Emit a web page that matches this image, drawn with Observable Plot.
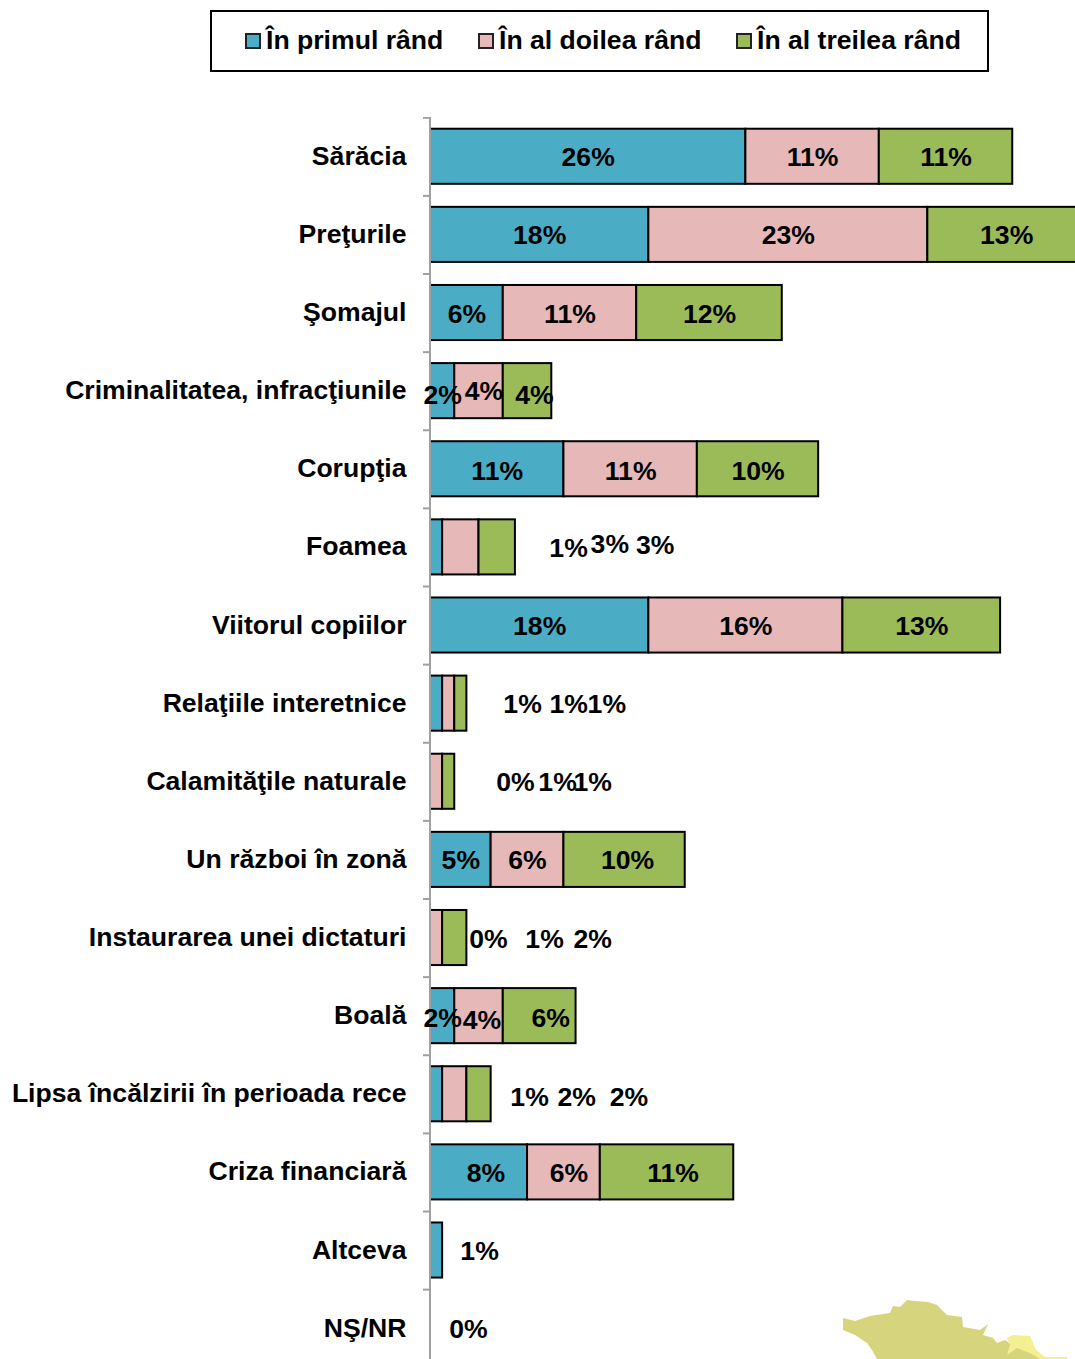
<!DOCTYPE html>
<html lang="ro">
<head>
<meta charset="utf-8">
<script src="https://cdn.jsdelivr.net/npm/d3@7"></script>
<script src="https://cdn.jsdelivr.net/npm/@observablehq/plot@0.6"></script>
<style>
html,body{margin:0;padding:0;background:#fff;overflow:hidden;width:1075px;height:1359px}
body{position:relative;font-family:"Liberation Sans",Arial,sans-serif;font-weight:700;color:#000}
#legend{position:absolute;left:210px;top:10px;width:775px;height:58px;border:2px solid #000;background:#fff}
.item{position:absolute;top:0;height:58px;line-height:56px;font-size:26.6px;white-space:nowrap}
.sw{position:absolute;left:-21px;top:21px;width:12px;height:12px;border:2px solid #222}
#map{position:absolute;left:0;top:0}
#chart{position:absolute;left:0;top:117px}
#chart svg{overflow:hidden;display:block}
</style>
</head>
<body>
<svg id="map" width="1075" height="1359" aria-hidden="true">
<path fill="#d6d47c" d="M843 1318L855 1321L870 1316L890 1313L893 1306L900 1307L907 1300L915 1301L928 1302L937 1305L947 1315L962 1317L963 1327L980 1330L988 1324L983 1335L993 1338L997 1343L1005 1340L1012 1345L1045 1359L877 1359L872 1350L867 1343L855 1335L843 1330Z"/>
<path fill="#f4ef90" d="M1007 1338L1013 1335L1030 1336L1036 1350L1045 1357L1067 1357L1067 1359L1040 1359L1030 1353L1017 1348L1007 1355L1010 1345Z"/>
</svg>
<div id="legend"></div>
<div id="chart"></div>
<script>
const categories = ["Sărăcia","Preţurile","Şomajul","Criminalitatea, infracţiunile","Corupţia","Foamea","Viitorul copiilor","Relaţiile interetnice","Calamităţile naturale","Un război în zonă","Instaurarea unei dictaturi","Boală","Lipsa încălzirii în perioada rece","Criza financiară","Altceva","NŞ/NR"];
const seriesNames = ["În primul rând","În al doilea rând","În al treilea rând"];
const seriesColors = ["#4bacc6","#e6b9b8","#9bbb59"];
const primul  = [26,18, 6,2,11,1,18,1,0, 5,0,2,1, 8,1,0];
const doilea  = [11,23,11,4,11,3,16,1,1, 6,1,4,2, 6,0,0];
const treilea = [11,13,12,4,10,3,13,1,1,10,2,6,2,11,0,0];

// Horizontal label nudges, in px, where the original labels sit off the segment centre
const nudgeX = {
  "3|1":5,"3|2":7,
  "5|0":132,"5|1":149,"5|2":158,
  "7|0":86,"7|1":120,"7|2":146,
  "8|0":85,"8|1":121,"8|2":144,
  "9|2":3,
  "10|0":58,"10|1":108,"10|2":138,
  "11|1":3,"11|2":11,
  "12|0":93,"12|1":122,"12|2":150,
  "13|0":7,"13|1":5,"13|2":6,
  "14|0":43,
  "15|0":38
};
// Vertical label nudges, in px, for labels off the row's usual baseline
const nudgeY = {
  "3|0":4,"3|1":0,"3|2":4,
  "4|0":2,"4|1":2,"4|2":2,
  "5|1":-3,"5|2":-2,
  "11|0":2,"11|1":4,"11|2":2,
  "12|0":3,"12|1":3,"12|2":3
};
const defaultDy = 1;

const pxPerUnit = 12.13;
const rows = [];
[primul, doilea, treilea].forEach((vals, s) => {
  vals.forEach((v, i) => {
    rows.push({cat: categories[i], i, s, series: seriesNames[s], value: v});
  });
});
categories.forEach((c, i) => {
  let acc = 0;
  rows.filter(r => r.i === i).sort((a, b) => a.s - b.s).forEach(r => {
    r.x1 = acc; acc += r.value; r.x2 = acc;
    const key = i + "|" + r.s;
    r.labelX = (r.x1 + r.x2) / 2 + (nudgeX[key] || 0) / pxPerUnit;
    r.dy = key in nudgeY ? nudgeY[key] : defaultDy;
  });
});
// Zero labels are printed only for these rows' first series
const shown = rows.filter(r => r.value > 0 || (r.s === 0 && [8,10,15].includes(r.i)));

const labelMarks = d3.groups(shown, r => r.dy).map(([dy, group]) => Plot.text(group, {
  x: "labelX", y: "cat", text: d => d.value + "%", dy, fontSize: 26.6, fontWeight: 700, fill: "#000", textAnchor: "middle"
}));

const plot = Plot.plot({
  width: 1075,
  height: 1242,
  marginLeft: 430,
  marginRight: 0,
  marginTop: 0,
  marginBottom: 0,
  style: {fontFamily: '"Liberation Sans", Arial, sans-serif', background: "transparent", overflow: "hidden"},
  x: {domain: [0, 645 / pxPerUnit], axis: null},
  y: {domain: categories, range: [0.2, 1250.2], round: false, paddingInner: 0.295, paddingOuter: 0.1475, label: null},
  color: {domain: seriesNames, range: seriesColors},
  marks: [
    Plot.axisY({tickSize: 0, tickPadding: 24, fontSize: 26.6, fontWeight: 700, fill: "#000", label: null, dy: -0.5}),
    Plot.axisY({tickSize: 7, tickFormat: () => "", stroke: "#a0a0a0", strokeWidth: 2, label: null, dy: -39}),
    Plot.barX(rows.filter(r => r.value > 0), {x1: "x1", x2: "x2", y: "cat", fill: "series", stroke: "#000", strokeWidth: 2}),
    Plot.ruleX([0], {stroke: "#a0a0a0", strokeWidth: 2, dx: -0.5}),
    ...labelMarks
  ]
});
document.getElementById("chart").appendChild(plot);

const legend = document.getElementById("legend");
[54, 287, 545].forEach((left, s) => {
  const it = document.createElement("div");
  it.className = "item";
  it.style.left = left + "px";
  it.textContent = seriesNames[s];
  const sw = document.createElement("span");
  sw.className = "sw";
  sw.style.background = seriesColors[s];
  it.appendChild(sw);
  legend.appendChild(it);
});
</script>
</body>
</html>
